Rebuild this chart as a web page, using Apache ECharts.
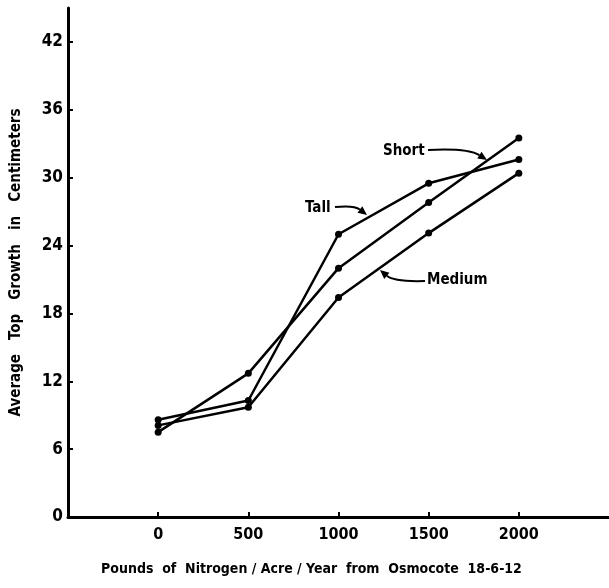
<!DOCTYPE html>
<html>
<head>
<meta charset="utf-8">
<script src="https://cdn.jsdelivr.net/npm/echarts@6/dist/echarts.min.js"></script>
<style>
  html, body { margin: 0; padding: 0; background: #fff; }
  #chart { width: 609px; height: 588px; }
</style>
</head>
<body>
<div id="chart"></div>
<script>
const nitrogen = [0, 500, 1000, 1500, 2000]
const tall = [8.6, 10.3, 25.0, 29.5, 31.6]
const medium = [8.1, 9.7, 19.4, 25.1, 30.4]
const short = [7.5, 12.7, 22.0, 27.8, 33.5]
const yTicks = [0, 6, 12, 18, 24, 30, 36, 42]

const FONT = '"DejaVu Sans Condensed", "Liberation Sans Narrow", sans-serif'

const pairs = vals => nitrogen.map((x, i) => [x, vals[i]])

function arrow(x1, y1, cx, cy, x2, y2) {
  const dx = x2 - cx, dy = y2 - cy
  const len = Math.sqrt(dx * dx + dy * dy)
  const ux = dx / len, uy = dy / len
  const hl = 9, hw = 4
  const bx = x2 - ux * hl, by = y2 - uy * hl
  return [
    {
      type: 'bezierCurve',
      shape: { x1, y1, cpx1: cx, cpy1: cy, x2: bx, y2: by },
      style: { stroke: '#000', lineWidth: 2, fill: null },
    },
    {
      type: 'polygon',
      shape: { points: [[x2, y2], [bx - uy * hw, by + ux * hw], [bx + uy * hw, by - ux * hw]] },
      style: { fill: '#000' },
    },
  ]
}

const label = (text, x, y) => ({
  type: 'text',
  x, y,
  style: { text, font: 'bold 15px ' + FONT, fill: '#000', textVerticalAlign: 'middle' },
})

const chart = echarts.init(document.getElementById('chart'))

const lineSeries = (name, vals) => ({
  name,
  type: 'line',
  data: pairs(vals),
  symbol: 'circle',
  symbolSize: 7,
  lineStyle: { color: '#000', width: 2.5 },
  itemStyle: { color: '#000' },
  animation: false,
})

chart.setOption({
  backgroundColor: '#fff',
  grid: { left: 68, right: 0, top: 8, bottom: 71, outerBoundsMode: 'none', containLabel: false },
  xAxis: {
    type: 'value',
    min: -500,
    max: 2500,
    interval: 500,
    name: 'Pounds  of  Nitrogen / Acre / Year  from  Osmocote  18-6-12',
    nameLocation: 'middle',
    nameGap: 45,
    nameTextStyle: { fontFamily: FONT, fontWeight: 'bold', fontSize: 14, color: '#000', padding: [0, 54, 0, 0] },
    axisLine: { show: true, onZero: false, lineStyle: { color: '#000', width: 3 } },
    axisTick: { show: true, inside: true, length: 5, customValues: nitrogen, lineStyle: { color: '#000', width: 2 } },
    axisLabel: {
      customValues: nitrogen,
      formatter: v => String(v),
      margin: 10, fontFamily: FONT, fontWeight: 'bold', fontSize: 16, color: '#000',
    },
    splitLine: { show: false },
  },
  yAxis: {
    type: 'value',
    min: 0,
    max: 45,
    interval: 6,
    name: 'Average   Top   Growth   in   Centimeters',
    nameLocation: 'middle',
    nameGap: 44,
    nameTextStyle: { fontFamily: FONT, fontWeight: 'bold', fontSize: 15, color: '#000' },
    axisLine: { show: true, onZero: false, lineStyle: { color: '#000', width: 3 } },
    axisTick: { show: true, inside: true, length: 5, customValues: yTicks, lineStyle: { color: '#000', width: 2 } },
    axisLabel: {
      customValues: yTicks,
      formatter: v => String(v),
      margin: 5, fontFamily: FONT, fontWeight: 'bold', fontSize: 17, color: '#000',
    },
    splitLine: { show: false },
  },
  series: [
    lineSeries('Tall', tall),
    lineSeries('Medium', medium),
    lineSeries('Short', short),
  ],
  graphic: [
    label('Short', 383, 151),
    ...arrow(428, 150, 468, 148, 487, 160),
    label('Tall', 305, 208),
    ...arrow(335, 207, 354, 205, 367, 215),
    label('Medium', 427, 280),
    ...arrow(425, 281, 394, 282, 380, 270),
  ],
})
</script>
</body>
</html>
